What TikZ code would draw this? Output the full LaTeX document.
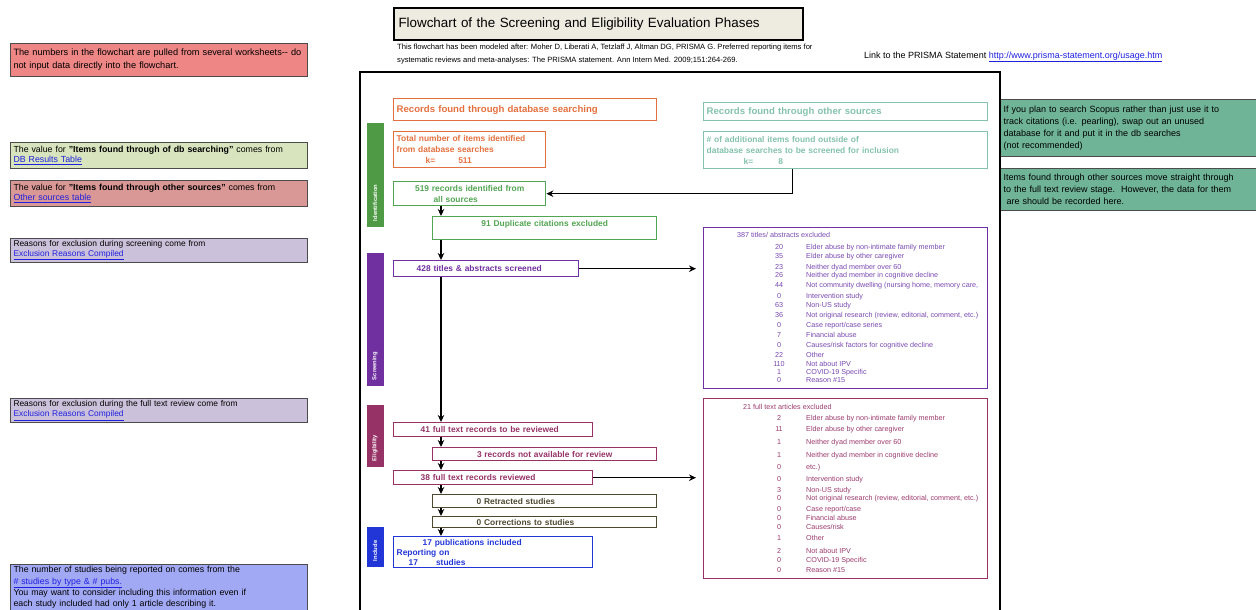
\documentclass[tikz,border=0pt]{standalone}
\usepackage{fontspec}
\setmainfont{Liberation Sans}
\usetikzlibrary{arrows.meta}
\definecolor{notered}{HTML}{EE8685}
\definecolor{notegreen}{HTML}{D7E4BD}
\definecolor{noterose}{HTML}{D99795}
\definecolor{notelav}{HTML}{CCC1DA}
\definecolor{noteblue}{HTML}{A2A9F4}
\definecolor{noteteal}{HTML}{70B497}
\definecolor{titlebeige}{HTML}{EEECE1}
\definecolor{linkblue}{HTML}{1F1FE0}
\definecolor{dborange}{HTML}{E4703F}
\definecolor{ostteal}{HTML}{84C2AD}
\definecolor{idgreen}{HTML}{4F9A45}
\definecolor{flowgreen}{HTML}{52A552}
\definecolor{scrpurple}{HTML}{7030A0}
\definecolor{exlpurple}{HTML}{7848B0}
\definecolor{elimaroon}{HTML}{963266}
\definecolor{exlmaroon}{HTML}{9B3A6C}
\definecolor{darkolive}{HTML}{4D4930}
\definecolor{incblue}{HTML}{2236D8}
\newcommand{\lnk}[1]{\textcolor{linkblue}{\underline{#1}}}
\tikzset{
  note/.style={draw=black!70, line width=1pt, anchor=north west, inner xsep=3pt, inner ysep=0pt, align=left, font=\fontsize{8.8}{10.5}\selectfont},
  flow/.style={draw, line width=1.4pt, anchor=north west, inner xsep=3pt, inner ysep=0pt, align=left, font=\fontsize{8.4}{11}\selectfont\bfseries},
  phase/.style={rotate=90, inner xsep=6pt, inner ysep=0pt, minimum height=17pt, align=left, text=white, font=\fontsize{5.8}{6}\selectfont\bfseries},
  arr/.style={-{Stealth[length=7pt,width=6.5pt]}, line width=1.3pt},
  exnum/.style={inner sep=0pt, anchor=base, font=\fontsize{7.2}{8}\selectfont},
  exrsn/.style={exnum, anchor=base west}
}
\begin{document}
\begin{tikzpicture}[x=1pt,y=-1pt]
  \useasboundingbox (0,0) rectangle (1256,610);
  %notes
  \node[note, fill=notered, text width=291pt, minimum height=33pt, font=\fontsize{9.2}{13}\selectfont] (nnumbers) at (10,43) {The numbers in the flowchart are pulled from several worksheets-{}- do\\not input data directly into the flowchart.};
  \node[note, fill=notegreen, text width=291pt, minimum height=26pt] (ndb) at (10,142) {The value for \textbf{"Items found through of db searching"} comes from\\\lnk{DB Results Table}};
  \node[note, fill=noterose, text width=291pt, minimum height=26pt] (nother) at (10,180) {The value for \textbf{"Items found through other sources"} comes from\\\lnk{Other sources table}};
  \node[note, fill=notelav, text width=291pt, minimum height=24pt, font=\fontsize{8.4}{9.5}\selectfont] (nscreen) at (10,238) {Reasons for exclusion during screening come from\\\lnk{Exclusion Reasons Compiled}};
  \node[note, fill=notelav, text width=291pt, minimum height=24pt, font=\fontsize{8.4}{10}\selectfont] (nfull) at (10,398) {Reasons for exclusion during the full text review come from\\\lnk{Exclusion Reasons Compiled}};
  \node[note, fill=noteblue, text width=291pt, minimum height=46pt, font=\fontsize{8.8}{11.3}\selectfont] (nstudies) at (10,564) {The number of studies being reported on comes from the\\\lnk{\# studies by type \& \# pubs.}\\You may want to consider including this information even if\\each study included had only 1 article describing it.};
  \node[note, fill=noteteal, text width=250pt, minimum height=57pt, font=\fontsize{9}{12}\selectfont] (nscopus) at (1000,99) {If you plan to search Scopus rather than just use it to\\track citations (i.e. pearling), swap out an unused\\database for it and put it in the db searches\\(not recommended)};
  \node[note, fill=noteteal, text width=250pt, minimum height=42pt, font=\fontsize{9}{12}\selectfont] (nstraight) at (1000,168) {Items found through other sources move straight through\\to the full text review stage.\ \ However, the data for them\\\ are should be recorded here.};
  %title
  \node[draw, line width=2pt, fill=titlebeige, anchor=north west, text width=400pt, minimum height=32pt, inner xsep=4.5pt, align=left, font=\fontsize{13.4}{16}\selectfont] (title) at (393,7) {Flowchart of the Screening and Eligibility Evaluation Phases};
  \node[anchor=north west, inner sep=0pt, align=left, font=\fontsize{7.6}{13}\selectfont] (cite) at (397,44) {This flowchart has been modeled after: Moher D, Liberati A, Tetzlaff J, Altman DG, PRISMA G. Preferred reporting items for\\systematic reviews and meta-analyses: The PRISMA statement. Ann Intern Med. 2009;151:264-269.};
  \node[anchor=west, inner sep=0pt, font=\fontsize{9}{11}\selectfont] (prisma) at (864,57) {Link to the PRISMA Statement \lnk{http://www.prisma-statement.org/usage.htm}};
  %frame
  \draw[line width=1.6pt] (360,610) |- (1000,72) -- (1000,610);
  %phases
  \node[phase, fill=idgreen, text width=92pt] (pid) at (375,175) {Identification};
  \node[phase, fill=scrpurple, text width=121pt] (pscr) at (375,319.5) {Screening};
  \node[phase, fill=elimaroon, text width=50pt] (peli) at (375,436) {Eligibility};
  \node[phase, fill=incblue, text width=28pt] (pinc) at (375,547) {Include};
  %boxes
  \node[flow, draw=dborange, text=dborange, text width=257pt, minimum height=22pt, font=\fontsize{9.6}{11}\selectfont\bfseries] (dbsearch) at (393,98) {Records found through database searching};
  \node[flow, draw=dborange, text=dborange, text width=146pt, minimum height=36pt] (dbtotal) at (393,131) {Total number of items identified\\from database searches\\\hspace*{29pt}k=\hspace{23pt}511};
  \node[flow, draw=ostteal, text=ostteal, text width=278pt, minimum height=18pt, font=\fontsize{9.6}{11}\selectfont\bfseries] (othersrc) at (703,102) {Records found through other sources};
  \node[flow, draw=ostteal, text=ostteal, text width=278pt, minimum height=37pt] (otheritems) at (703,131) {\# of additional items found outside of\\database searches to be screened for inclusion\\\hspace*{37pt}k=\hspace{25pt}8};
  \node[flow, draw=flowgreen, text=flowgreen, text width=146pt, minimum height=24pt, align=center] (rec519) at (393,181) {519 records identified from\\all sources\hspace*{28pt}};
  \node[flow, draw=flowgreen, text=flowgreen, text width=218pt, minimum height=23pt, align=center, text depth=10pt] (dup) at (432,216) {91 Duplicate citations excluded};
  \node[flow, draw=scrpurple, text=scrpurple, text width=179pt, minimum height=16pt] (screened) at (393,260) {\hspace*{20pt}428 titles \& abstracts screened};
  \node[flow, draw=elimaroon, text=elimaroon, text width=193pt, minimum height=14pt] (ft41) at (393,422) {\hspace*{24pt}41 full text records to be reviewed};
  \node[flow, draw=elimaroon, text=elimaroon, text width=218pt, minimum height=13pt, align=center] (notavail) at (432,447) {3 records not available for review};
  \node[flow, draw=elimaroon, text=elimaroon, text width=193pt, minimum height=14pt] (rev38) at (393,470) {\hspace*{24pt}38 full text records reviewed};
  \node[flow, draw=darkolive, text=darkolive, text width=218pt, minimum height=13pt] (retracted) at (432,494) {\hspace*{41pt}0 Retracted studies};
  \node[flow, draw=darkolive, text=darkolive, text width=218pt, minimum height=11pt] (corrections) at (432,516) {\hspace*{41pt}0 Corrections to studies};
  \node[flow, draw=incblue, text=incblue, text width=193pt, minimum height=31pt, font=\fontsize{8.4}{10}\selectfont\bfseries] (included) at (393,536) {\hspace*{26pt}17 publications included\\Reporting on\\\hspace*{12pt}17\hspace{18pt}studies};
  %excluded lists
  \node[flow, draw=scrpurple, minimum width=284pt, minimum height=161pt] (excl1) at (703,227) {};
  \node[exrsn, text=exlpurple] (ex1h) at (737,237.5) {387 titles/ abstracts excluded};
  \foreach \y/\n/\r [count=\i] in {247/20/Elder abuse by non-intimate family member, 256/35/Elder abuse by other caregiver, 267/23/Neither dyad member over 60, 275/26/Neither dyad member in cognitive decline, 285/44/{Not community dwelling (nursing home, memory care,}, 296/0/Intervention study, 305/63/Non-US study, 315/36/{Not original research (review, editorial, comment, etc.)}, 325/0/{Case report/case series}, 335/7/Financial abuse, 345/0/{Causes/risk factors for cognitive decline}, 355/22/Other, 364/110/Not about IPV, 372/1/COVID-19 Specific, 380/0/Reason \#15} {
    \node[exnum, text=exlpurple] (ex1n\i) at (779,{\y+2.5}) {\n};
    \node[exrsn, text=exlpurple] (ex1r\i) at (806,{\y+2.5}) {\r};
  }
  \node[flow, draw=elimaroon, minimum width=284pt, minimum height=180pt] (excl2) at (703,398) {};
  \node[exrsn, text=exlmaroon] (ex2h) at (743,409.5) {21 full text articles excluded};
  \foreach \y/\n/\r [count=\i] in {418/2/Elder abuse by non-intimate family member, 429/11/Elder abuse by other caregiver, 442/1/Neither dyad member over 60, 455/1/Neither dyad member in cognitive decline, 467/0/etc.), 479/0/Intervention study, 490/3/Non-US study, 498/0/{Not original research (review, editorial, comment, etc.)}, 509/0/{Case report/case}, 518/0/Financial abuse, 527/0/{Causes/risk}, 538/1/Other, 551/2/Not about IPV, 560/0/COVID-19 Specific, 570/0/Reason \#15} {
    \node[exnum, text=exlmaroon] (ex2n\i) at (779,{\y+2.5}) {\n};
    \node[exrsn, text=exlmaroon] (ex2r\i) at (806,{\y+2.5}) {\r};
  }
  %arrows
  \coordinate (spine) at (441,0);
  \draw[arr] ([xshift=-53pt]otheritems.south) |- (rec519.east);
  \draw[arr] (rec519.south -| spine) -- (dup.north -| spine);
  \draw[arr] (dup.south -| spine) -- (screened.north -| spine);
  \draw[arr, shorten >=7pt] (screened.east) -- (screened.east -| excl1.west);
  \draw[arr] (screened.south -| spine) -- (ft41.north -| spine);
  \draw[arr] (ft41.south -| spine) -- (notavail.north -| spine);
  \draw[arr] (notavail.south -| spine) -- (rev38.north -| spine);
  \draw[arr, shorten >=7pt] (rev38.east) -- (rev38.east -| excl2.west);
  \draw[arr] (rev38.south -| spine) -- (retracted.north -| spine);
  \draw[arr] (retracted.south -| spine) -- (corrections.north -| spine);
  \draw[arr] (corrections.south -| spine) -- (included.north -| spine);
\end{tikzpicture}
\end{document}
